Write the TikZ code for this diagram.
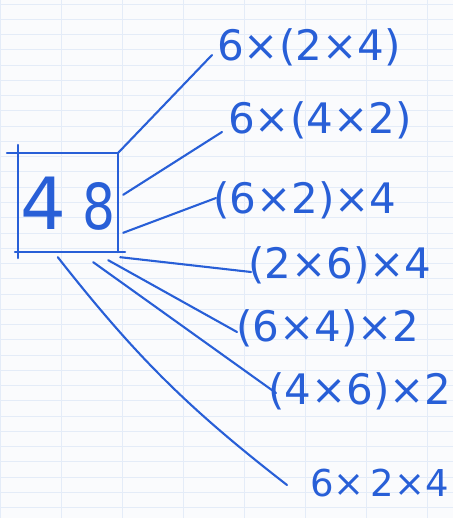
\documentclass[tikz,border=0pt]{standalone}
\usepackage{fontspec}
\setmainfont{DejaVu Sans}
\usetikzlibrary{calc}
\definecolor{ink}{RGB}{40,95,215}
\definecolor{paper}{RGB}{250,251,253}
\definecolor{rule}{RGB}{228,236,248}
\tikzset{
  pen/.style={draw=ink, line width=2.1pt, line cap=round, line join=round},
  expr/.style={text=ink, font=\fontsize{42}{44}\selectfont, inner sep=0pt, anchor=west},
  big/.style={text=ink, font=\fontsize{72}{74}\selectfont, inner sep=0pt},
}
\begin{document}
\begin{tikzpicture}[x=1pt,y=-1pt]
  % paper
  \fill[paper] (0,0) rectangle (453,518);
  \useasboundingbox (0,0) rectangle (453,518);
  \foreach \k in {0,...,34} {\draw[rule, line width=0.5pt] (0,{4+\k*15.25}) -- (453,{4+\k*15.25});}
  \foreach \k in {0,...,7} {\draw[rule, line width=0.7pt] ({0+\k*61},0) -- ({0+\k*61},518);}

  % central box
  \node[minimum width=100pt, minimum height=99pt, inner sep=0pt] (box) at (68,202.5) {};
  \node[big] (num) at (68,204) {4\hspace{16pt}\scalebox{0.72}[0.88]{8}};
  \draw[pen] ($(box.north west)+(-11,0)$) -- (box.north east);
  \draw[pen] ($(box.north west)+(0,-8)$) -- ($(box.south west)+(0,6)$);
  \draw[pen] (box.north east) -- (box.south east);
  \draw[pen] ($(box.south west)+(-3,0)$) -- ($(box.south east)+(7,0)$);

  % labels
  \node[expr] (l1) at (217,47)  {6×(2×4)};
  \node[expr] (l2) at (228,120) {6×(4×2)};
  \node[expr] (l3) at (213,200) {(6×2)×4};
  \node[expr] (l4) at (248,265) {(2×6)×4};
  \node[expr] (l5) at (236,328) {(6×4)×2};
  \node[expr] (l6) at (268,391) {(4×6)×2};
  \node[expr, font=\fontsize{37}{40}\selectfont] (l7) at (310,483) {6×\hspace{6pt}2×4};

  % start points on the box
  \coordinate (s1) at (box.north east);
  \coordinate (s2) at ($(box.north east)+(5,42)$);
  \coordinate (s3) at ($(box.north east)+(5,80)$);
  \coordinate (s4) at ($(box.south east)+(2,5)$);
  \coordinate (s5) at ($(box.south east)+(-10,8)$);
  \coordinate (s6) at ($(box.south east)+(-25,10)$);
  \coordinate (s7) at ($(box.south west)+(40,5)$);
  \coordinate (e7) at ($(l7.west)+(-23,2)$);

  % connectors
  \draw[pen] (s1) -- ($(l1.west)+(-5,8)$);
  \draw[pen] (s2) -- ($(l2.west)+(-6,12)$);
  \draw[pen] (s3) -- ($(l3.west)+(3,-2)$);
  \draw[pen] (s4) -- ($(l4.west)+(3,7)$);
  \draw[pen] (s5) -- ($(l5.west)+(1,4)$);
  \draw[pen] (s6) -- ($(l6.west)+(8,2)$);
  \draw[pen] (s7) to[bend right=7] (e7);
\end{tikzpicture}
\end{document}
